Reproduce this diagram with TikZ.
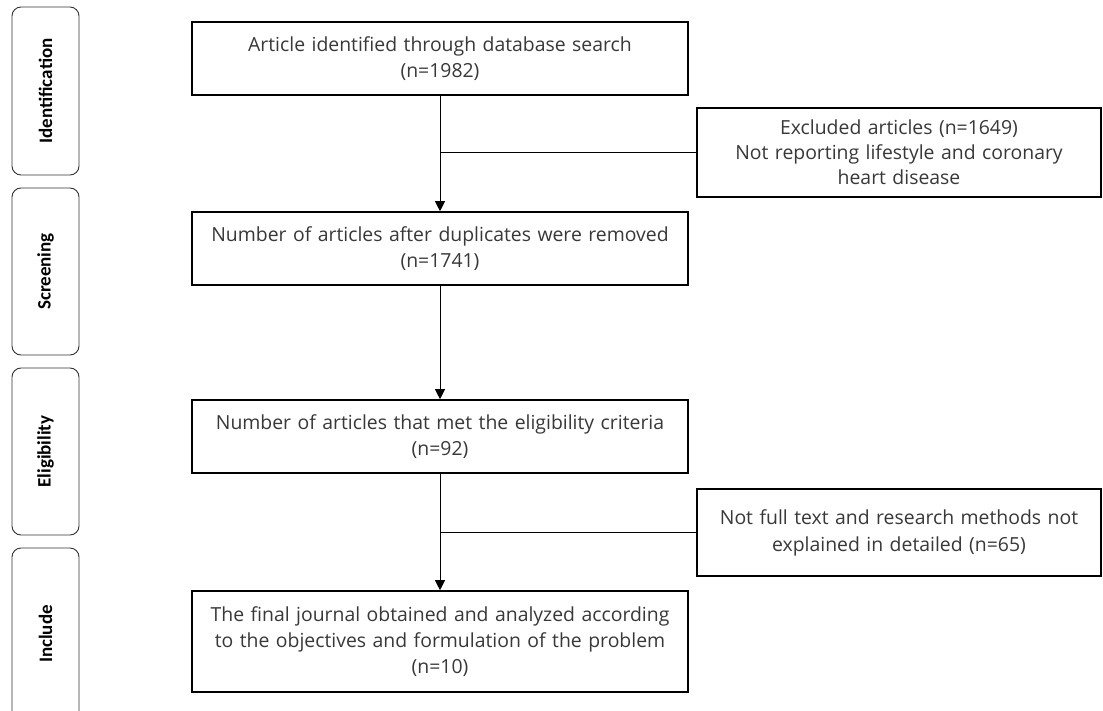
\documentclass[tikz,border=0pt]{standalone}
\usepackage{fontspec}
\setmainfont{Open Sans}
\newfontfamily\labelfont{Carlito}
\usetikzlibrary{arrows.meta}
\definecolor{txt}{HTML}{383838}
\begin{document}
\begin{tikzpicture}[x=1pt,y=-1pt,
  mainbox/.style={draw=black,line width=1.6pt,minimum width=496pt,text width=486pt,align=center,inner sep=0pt,text=txt,font=\fontsize{19.4}{26}\selectfont},
  exbox/.style={draw=black,line width=1.6pt,minimum width=404pt,text width=396pt,align=center,inner sep=0pt,text=txt,font=\fontsize{19.4}{25}\selectfont},
  stagebox/.style={draw=black!80,line width=0.9pt,rounded corners=9pt,rotate=90,minimum height=67pt,inner sep=0pt,font=\labelfont\bfseries\fontsize{19}{22}\selectfont},
  flow/.style={line width=0.9pt,-{Triangle[length=10pt,width=10pt]}},
  link/.style={line width=0.9pt}]
\useasboundingbox (0,0) rectangle (1103,711);
% stage labels
\node[stagebox,minimum width=168pt] (s1) at (45.5,91) {Identification};
\node[stagebox,minimum width=167pt] (s2) at (45.5,271.5) {Screening};
\node[stagebox,minimum width=167pt] (s3) at (45.5,451.5) {Eligibility};
\node[stagebox,minimum width=172pt] (s4) at (45.5,634) {Include};
% main boxes
\node[mainbox,minimum height=73pt] (b1) at (440,58.5) {Article identified through database search\\(n=1982)};
\node[mainbox,minimum height=73pt] (b2) at (440,248.5) {Number of articles after duplicates were removed\\(n=1741)};
\node[mainbox,minimum height=73pt] (b3) at (440,436.5) {Number of articles that met the eligibility criteria\\(n=92)};
\node[mainbox,minimum height=101pt] (b4) at (440,641.5) {The final journal obtained and analyzed according\\to the objectives and formulation of the problem\\(n=10)};
% exclusion boxes
\node[exbox,minimum height=89pt] (e1) at (899,152.5) {Excluded articles (n=1649)\\Not reporting lifestyle and coronary\\heart disease};
\node[exbox,minimum height=87pt] (e2) at (899,532.5) {\raisebox{16pt}{\parbox{396pt}{\centering\fontsize{19.4}{27}\selectfont Not full text and research methods not\\explained in detailed (n=65)}}};
% connectors
\draw[flow] (b1) -- (b2);
\draw[flow] (b2) -- (b3);
\draw[flow] (b3) -- (b4);
\coordinate (j1) at (b1.south |- e1.west);
\coordinate (j2) at (b3.south |- e2.west);
\draw[link] (j1) -- (e1.west);
\draw[link] (j2) -- (e2.west);
\end{tikzpicture}
\end{document}
